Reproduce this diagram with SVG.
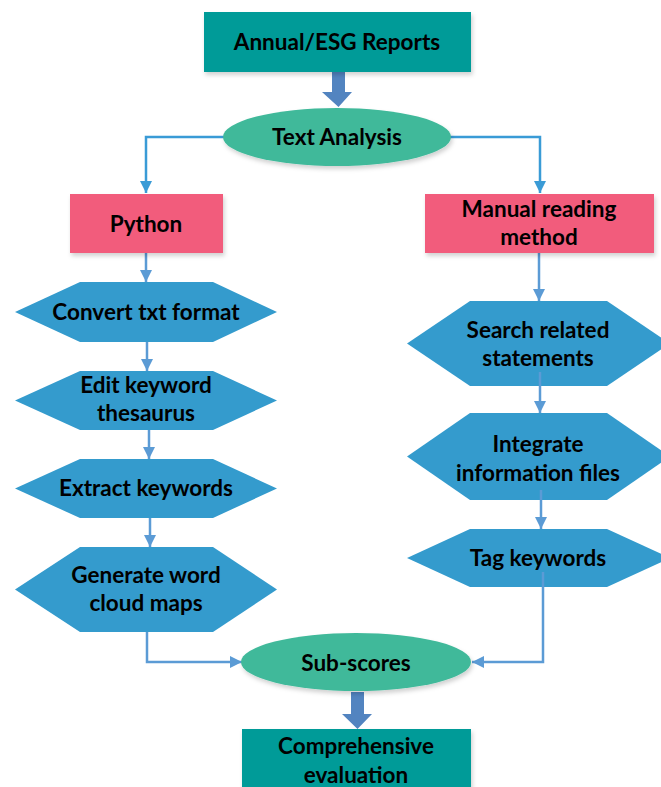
<svg xmlns="http://www.w3.org/2000/svg" width="661" height="787" viewBox="0 0 661 787">
  <style>
    .lbl { font-family: Lato, "Open Sans", "Liberation Sans", sans-serif; font-weight: bold; font-size: 22.5px; fill: #000; text-anchor: middle; }
    .teal { fill: #069b98; }
    .oval { fill: #40b99a; }
    .pink { fill: #f25c7b; }
    .hex { fill: #349bcd; }
    .link { fill: none; stroke: #5b9bd5; stroke-width: 2.5; }
    .link-top { fill: none; stroke: #3a9bd6; stroke-width: 2.5; }
    .fat { fill: #5284c0; }
  </style>
  <defs>
    <filter id="shadow" x="-10%" y="-10%" width="125%" height="135%">
      <feDropShadow dx="1.5" dy="3" stdDeviation="2" flood-color="#000" flood-opacity="0.18"/>
    </filter>
    <marker id="arr" markerUnits="userSpaceOnUse" markerWidth="14" markerHeight="14" refX="12" refY="7" orient="auto">
      <path d="M0,1 L12,7 L0,13 Z" fill="#5b9bd5"/>
    </marker>
    <marker id="arr-top" markerUnits="userSpaceOnUse" markerWidth="14" markerHeight="14" refX="12" refY="7" orient="auto">
      <path d="M0,1 L12,7 L0,13 Z" fill="#3a9bd6"/>
    </marker>
  </defs>

  <rect width="661" height="787" fill="#fff"/>

  <!-- connectors -->
  <g id="connectors">
    <polyline class="link-top" points="224,137 146,137 146,193" marker-end="url(#arr-top)"/>
    <polyline class="link-top" points="450,137 540,137 540,193" marker-end="url(#arr-top)"/>
    <line class="link" x1="146" y1="253" x2="146" y2="282" marker-end="url(#arr)"/>
    <line class="link" x1="147" y1="342" x2="147" y2="371" marker-end="url(#arr)"/>
    <line class="link" x1="149" y1="430" x2="149" y2="459" marker-end="url(#arr)"/>
    <line class="link" x1="150" y1="518" x2="150" y2="547" marker-end="url(#arr)"/>
    <polyline class="link" points="147,632 147,662 242,662" marker-end="url(#arr)"/>
    <line class="link" x1="539" y1="253" x2="539" y2="301" marker-end="url(#arr)"/>
    <line class="link" x1="540" y1="372" x2="540" y2="413" marker-end="url(#arr)"/>
    <line class="link" x1="541" y1="490" x2="541" y2="529" marker-end="url(#arr)"/>
    <polyline class="link" points="543,572 543,662 472,662" marker-end="url(#arr)"/>
    <!-- block arrows -->
    <path class="fat" d="M332,72 H345 V92 H352 L338.5,107 L322,92 H332 Z"/>
    <path class="fat" d="M351,692 H364 V714 H372 L357.5,729 L342,714 H351 Z"/>
  </g>

  <g id="n-reports">
    <rect class="teal" x="204" y="12" width="267" height="60" filter="url(#shadow)"/>
    <text class="lbl" x="337" y="50">Annual/ESG Reports</text>
  </g>

  <g id="n-text-analysis">
    <ellipse class="oval" cx="337" cy="137" rx="114" ry="29" filter="url(#shadow)"/>
    <text class="lbl" x="337" y="145">Text Analysis</text>
  </g>

  <g id="n-python">
    <rect class="pink" x="70" y="194" width="153" height="59" filter="url(#shadow)"/>
    <text class="lbl" x="146" y="232">Python</text>
  </g>

  <g id="n-manual">
    <rect class="pink" x="425" y="194" width="229" height="59" filter="url(#shadow)"/>
    <text class="lbl" x="539" y="217">Manual reading</text>
    <text class="lbl" x="539" y="245">method</text>
  </g>

  <g id="n-convert">
    <polygon class="hex" points="15,312 80,282 213,282 277,312 213,342 80,342"/>
    <text class="lbl" x="146" y="320">Convert txt format</text>
  </g>

  <g id="n-thesaurus">
    <polygon class="hex" points="15,400.5 80,371 213,371 277,400.5 213,430 80,430"/>
    <text class="lbl" x="146" y="393">Edit keyword</text>
    <text class="lbl" x="146" y="421">thesaurus</text>
  </g>

  <g id="n-extract">
    <polygon class="hex" points="15,488.5 80,459 213,459 277,488.5 213,518 80,518"/>
    <text class="lbl" x="146" y="496">Extract keywords</text>
  </g>

  <g id="n-cloud">
    <polygon class="hex" points="15,589.5 80,547 213,547 277,589.5 213,632 80,632"/>
    <text class="lbl" x="146" y="583">Generate word</text>
    <text class="lbl" x="146" y="611">cloud maps</text>
  </g>

  <g id="n-search">
    <polygon class="hex" points="407,343.5 470,301 607,301 670,343.5 607,386 470,386"/>
    <text class="lbl" x="538" y="338">Search related</text>
    <text class="lbl" x="538" y="366">statements</text>
  </g>

  <g id="n-integrate">
    <polygon class="hex" points="407,456.5 470,413 607,413 670,456.5 607,500 470,500"/>
    <text class="lbl" x="538" y="452">Integrate</text>
    <text class="lbl" x="538" y="481">information files</text>
  </g>

  <g id="n-tag">
    <polygon class="hex" points="407,558 470,529 607,529 670,558 607,587 470,587"/>
    <text class="lbl" x="538" y="566">Tag keywords</text>
  </g>

  <!-- link segments that run over the hexagons -->
  <g id="connectors-over">
    <line class="link" x1="540" y1="372" x2="540" y2="386"/>
    <line class="link" x1="541" y1="490" x2="541" y2="500"/>
    <line class="link" x1="543" y1="572" x2="543" y2="587"/>
  </g>

  <g id="n-subscores">
    <ellipse class="oval" cx="356" cy="662" rx="115" ry="29" filter="url(#shadow)"/>
    <text class="lbl" x="356" y="671">Sub-scores</text>
  </g>

  <g id="n-evaluation">
    <rect class="teal" x="242" y="729" width="229" height="62" filter="url(#shadow)"/>
    <text class="lbl" x="356" y="754">Comprehensive</text>
    <text class="lbl" x="356" y="783">evaluation</text>
  </g>
</svg>
